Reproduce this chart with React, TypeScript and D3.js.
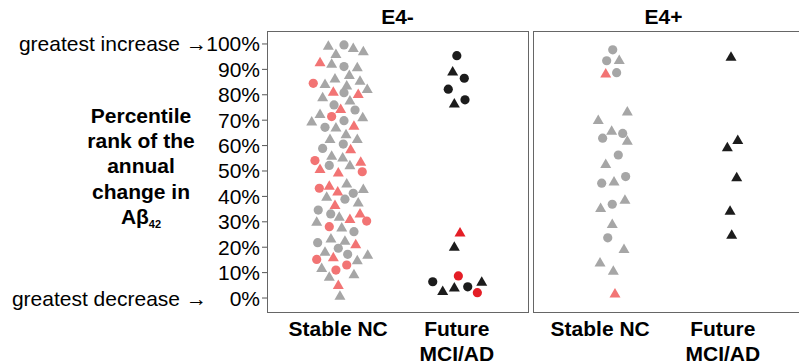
import React from "react";
import * as d3 from "d3";

// ---------- data ----------
const yTicks = [0, 10, 20, 30, 40, 50, 60, 70, 80, 90, 100];
const panelTitles = ["E4-", "E4+"];
const categories = [["Stable NC"], ["Future", "MCI/AD"]];

// E4- / Stable NC
const negStablePct = [99.6, 99.6, 98.7, 97.4, 96.3, 93.1, 92.5, 91.1, 91.1, 88.1, 86.7, 84.5, 84.5, 83.9, 85.8, 82.6, 81.5, 80.8, 80.6, 79.3, 78.0, 76.0, 74.7, 74.0, 72.7, 71.4, 71.4, 69.8, 69.8, 67.2, 67.4, 68.1, 64.8, 62.9, 62.9, 60.6, 58.9, 58.9, 56.3, 55.6, 54.1, 53.9, 52.6, 52.2, 51.1, 49.7, 49.7, 45.4, 43.2, 44.5, 43.2, 42.2, 41.2, 40.2, 38.9, 37.9, 36.9, 34.6, 33.6, 33.1, 32.3, 30.3, 31.4, 30.3, 28.1, 28.1, 26.1, 23.7, 22.8, 21.8, 21.5, 19.6, 18.5, 17.2, 17.3, 16.3, 15.2, 15.2, 12.1, 13.0, 11.0, 9.7, 8.7, 5.4, 1.2];
const negStableJit = [-0.083, 0.049, 0.127, 0.212, -0.019, -0.153, -0.055, 0.049, 0.161, 0.094, -0.027, -0.21, -0.111, 0.072, 0.184, 0.245, -0.041, 0.049, 0.169, -0.131, 0.099, -0.035, 0.021, 0.142, -0.153, -0.055, 0.207, -0.223, 0.049, -0.111, -0.019, 0.133, 0.066, -0.069, 0.161, 0.043, -0.131, 0.105, -0.055, 0.038, -0.196, 0.19, 0.099, -0.075, -0.153, 0.001, 0.203, 0.072, -0.159, -0.075, 0.212, -0.004, 0.127, -0.097, 0.057, 0.169, -0.027, -0.168, 0.184, -0.063, 0.009, -0.181, 0.099, 0.24, -0.075, 0.03, 0.133, -0.061, 0.057, -0.173, 0.148, 0.001, -0.111, 0.08, 0.249, -0.041, -0.181, 0.161, -0.139, 0.072, -0.019, 0.133, -0.075, 0.001, 0.015];
const negStableCode = ["gt", "gc", "gt", "gt", "gt", "rt", "gt", "gc", "gt", "gt", "gt", "rc", "gt", "gt", "gt", "gt", "rt", "gc", "rt", "gt", "gt", "gc", "rt", "gc", "gt", "rc", "gt", "gt", "gc", "gc", "gt", "rt", "gt", "gt", "gt", "gc", "gc", "rt", "gt", "gt", "rc", "rt", "gt", "gc", "rt", "rt", "rc", "gt", "rc", "rt", "gt", "rt", "gc", "gt", "gc", "gt", "rt", "gc", "rt", "gc", "gt", "gt", "rt", "rc", "rc", "gt", "gc", "gt", "gt", "gc", "rt", "gc", "gt", "gc", "gt", "rt", "rc", "gt", "gt", "rc", "rc", "gt", "gt", "rt", "gt"];

// E4- / Future MCI/AD
const negFuturePct = [95.4, 89.5, 86.5, 82.2, 76.9, 78.0, 26.1, 20.5, 6.4, 8.7, 3.1, 4.4, 4.4, 2.1, 6.7];
const negFutureJit = [0.0, -0.035, 0.063, -0.072, -0.021, 0.069, 0.027, -0.021, -0.203, 0.013, -0.119, -0.021, 0.092, 0.173, 0.21];
const negFutureCode = ["kc", "kt", "kc", "kc", "kt", "kc", "Rt", "kt", "kc", "Rc", "kt", "kt", "kc", "Rc", "kt"];

// E4+ / Stable NC
const posStablePct = [97.7, 93.4, 94.0, 88.7, 88.7, 73.7, 70.4, 66.1, 64.8, 62.9, 62.2, 56.3, 53.0, 45.2, 46.2, 47.8, 35.7, 36.9, 39.0, 29.4, 23.7, 19.6, 14.3, 11.0, 2.1];
const posStableJit = [0.072, 0.021, 0.127, 0.013, 0.105, 0.195, -0.05, 0.063, 0.156, -0.013, 0.195, 0.119, 0.013, -0.021, 0.083, 0.181, -0.03, 0.068, 0.175, 0.068, 0.03, 0.167, -0.035, 0.077, 0.091];
const posStableCode = ["gc", "gc", "gt", "rt", "gc", "gt", "gt", "gt", "gc", "gc", "gt", "gc", "gt", "gc", "gt", "gc", "gt", "gc", "gt", "gt", "gc", "gt", "gt", "gt", "rt"];

// E4+ / Future MCI/AD
const posFuturePct = [95.3, 62.5, 59.6, 47.8, 34.6, 25.2];
const posFutureJit = [0.069, 0.126, 0.038, 0.117, 0.061, 0.075];
const posFutureCode = ["kt", "kt", "kt", "kt", "kt", "kt"];

// ---------- styling ----------
const FONT = "'Liberation Sans', Arial, Helvetica, sans-serif";
const COLORS: Record<string, string> = {
  g: "#a6a6a6",
  r: "#f27474",
  k: "#1c1c1c",
  R: "#e41e26",
};

const yScale = d3.scaleLinear().domain([-5.5, 105.1]).range([312, 31]);
const panelRanges: [number, number][] = [
  [267, 528],
  [533, 794],
];

const groups = [
  [
    { pct: negStablePct, jit: negStableJit, code: negStableCode },
    { pct: negFuturePct, jit: negFutureJit, code: negFutureCode },
  ],
  [
    { pct: posStablePct, jit: posStableJit, code: posStableCode },
    { pct: posFuturePct, jit: posFutureJit, code: posFutureCode },
  ],
];

const TRI_W = 11;
const TRI_H = 9.5;
const triPath = `M0,${-TRI_H / 2}L${TRI_W / 2},${TRI_H / 2}L${-TRI_W / 2},${TRI_H / 2}Z`;

function Marker({ x, y, code }: { x: number; y: number; code: string }) {
  const fill = COLORS[code[0]];
  if (code[1] === "c") return <circle cx={x} cy={y} r={4.6} fill={fill} />;
  return <path d={triPath} transform={`translate(${x},${y})`} fill={fill} />;
}

export default function App() {
  return (
    <svg
      width={799}
      height={364}
      style={{ position: "absolute", left: 0, top: 0, background: "#fff" }}
      fontFamily={FONT}
    >
      <rect width={799} height={364} fill="#fff" />
      {/* y axis labels */}
      {yTicks.map((t) => (
        <g key={t}>
          <line x1={262} x2={267} y1={yScale(t)} y2={yScale(t)} stroke="#555" strokeWidth={1} />
          <text x={260} y={yScale(t) + 7.5} fontSize={21} textAnchor="end" fill="#000">
            {t}%
          </text>
        </g>
      ))}
      {[
        ["greatest increase", 100],
        ["greatest decrease", 0],
      ].map(([s, v]) => (
        <g key={s as string}>
          <text x={180} y={yScale(v as number) + 7.5} fontSize={21} textAnchor="end" fill="#000">
            {s}
          </text>
          <text
            x={186}
            y={yScale(v as number) + 7.5}
            fontSize={21}
            textLength={21}
            lengthAdjust="spacingAndGlyphs"
            fill="#000"
          >
            →
          </text>
        </g>
      ))}
      {["Percentile", "rank of the", "annual", "change in"].map((s, i) => (
        <text key={s} x={141} y={123 + i * 25.2} fontSize={21} fontWeight="bold" textAnchor="middle">
          {s}
        </text>
      ))}
      <text x={141} y={224} fontSize={21} fontWeight="bold" textAnchor="middle">
        Aβ
        <tspan fontSize={11} dy={4}>
          42
        </tspan>
      </text>

      {panelRanges.map((rng, pi) => {
        const x = d3.scaleLinear().domain([0.4, 2.6]).range(rng);
        return (
          <g key={pi}>
            <rect
              x={rng[0] + 0.5}
              y={31.5}
              width={pi === 1 ? 300 : rng[1] - rng[0]}
              height={281}
              fill="none"
              stroke="#666"
              strokeWidth={1}
            />
            <text x={(rng[0] + rng[1]) / 2} y={24} fontSize={21} fontWeight="bold" textAnchor="middle">
              {panelTitles[pi]}
            </text>
            {categories.map((lines, ci) =>
              lines.map((s, li) => (
                <text
                  key={`${ci}-${li}`}
                  x={x(ci + 1) - (pi === 1 && ci === 0 ? 4 : 0)}
                  y={336 + li * 25}
                  fontSize={21}
                  fontWeight="bold"
                  textAnchor="middle"
                >
                  {s}
                </text>
              ))
            )}
            {groups[pi].map((g, ci) =>
              g.pct.map((p, k) => (
                <Marker key={`${ci}-${k}`} x={x(ci + 1 + g.jit[k])} y={yScale(p)} code={g.code[k]} />
              ))
            )}
          </g>
        );
      })}
    </svg>
  );
}
